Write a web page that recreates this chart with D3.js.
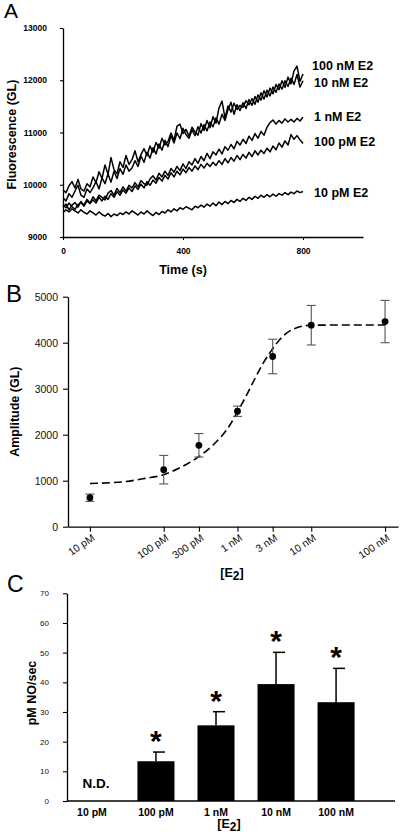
<!DOCTYPE html>
<html><head><meta charset="utf-8">
<script src="https://cdn.jsdelivr.net/npm/d3@7"></script>
<style>
body{margin:0;background:#fff}
svg{display:block;font-family:"Liberation Sans",Arial,Helvetica,sans-serif}
</style>
</head><body>
<svg id="chart" width="400" height="839"></svg>
<script>
// ---------- Panel A data ----------
const timeS = [0,10,20,30,40,50,60,70,80,90,100,110,120,130,140,150,160,170,180,190,
 200,210,220,230,240,250,260,270,280,290,300,310,320,330,340,350,360,370,380,390,
 400,410,420,430,440,450,460,470,480,490,500,510,520,530,540,550,560,570,580,590,
 600,610,620,630,640,650,660,670,680,690,700,710,720,730,740,750,760,770,780,790,800];
const timeTicks = [0, 400, 800];
const fluorTicks = [9000, 10000, 11000, 12000, 13000];
const seriesNames = ["100 nM E2", "10 nM E2", "1 nM E2", "100 pM E2", "10 pM E2"];
const fluor100nM = [9900,9850,9980,10060,9940,10100,9920,9880,10020,9960,
 10150,10040,10250,10120,10380,10200,10520,10290,10210,10440,
 10330,10560,10390,10480,10650,10440,10580,10690,10560,10740,
 10620,10810,10700,10890,10760,10830,10990,10850,11120,11160,
 10980,11060,10930,11100,11010,10950,11170,11040,11230,11090,
 11300,11180,11470,11600,11280,11510,11390,11560,11440,11520,
 11480,11610,11530,11650,11540,11720,11620,11800,11680,11850,
 11740,11920,11820,11990,11860,12060,11930,12180,12270,11980,12120];
const fluor10nM = [9750,9690,9830,9760,9880,9990,9800,9760,9920,9850,
 9940,10060,9920,10130,10020,10210,10050,10260,10120,10310,
 10200,10380,10260,10320,10460,10350,10550,10430,10620,10510,
 10710,10590,10780,10660,10850,10730,10940,10800,10990,10880,
 11080,10960,10890,11050,10940,11110,10990,11150,11030,11200,
 11110,11280,11160,11350,11230,11440,11580,11350,11530,11420,
 11570,11460,11630,11520,11690,11580,11760,11640,11810,11700,
 11870,11770,11930,11830,11990,11880,12040,11920,12110,11870,11990];
const fluor1nM = [9570,9630,9520,9610,9660,9570,9680,9610,9720,9650,
 9770,9690,9800,9760,9710,9840,9890,9800,9930,9850,
 9960,9880,9990,9940,10040,9960,10080,10020,9990,10110,
 10170,10090,10220,10150,10260,10180,10310,10240,10350,10270,
 10400,10310,10440,10380,10500,10410,10540,10460,10600,10500,
 10630,10570,10680,10590,10730,10660,10770,10690,10830,10760,
 10870,10790,10930,10850,10980,10890,11020,10950,11100,11190,
 11240,11160,11230,11180,11260,11200,11250,11200,11270,11220,11290];
const fluor100pM = [9610,9560,9650,9580,9530,9620,9660,9590,9690,9640,
 9710,9650,9760,9690,9780,9720,9830,9760,9870,9800,
 9900,9840,9940,9870,9980,9910,10010,9940,10060,9990,
 10090,10030,10140,10070,10180,10110,10230,10150,10260,10190,
 10300,10230,10330,10260,10360,10290,10390,10320,10410,10350,
 10430,10370,10460,10390,10500,10420,10520,10450,10560,10480,
 10580,10510,10620,10540,10650,10570,10660,10600,10700,10630,
 10740,10670,10800,10720,10840,10760,10960,10870,10940,10860,10790];
const fluor10pM = [9470,9520,9480,9540,9500,9460,9520,9470,9440,9500,
 9460,9420,9480,9430,9400,9450,9390,9440,9410,9460,
 9430,9480,9440,9500,9460,9420,9480,9440,9500,9450,
 9410,9470,9430,9490,9460,9520,9480,9540,9500,9560,
 9530,9580,9550,9520,9590,9560,9610,9570,9630,9590,
 9650,9600,9670,9620,9680,9640,9700,9660,9720,9680,
 9740,9700,9760,9720,9780,9740,9800,9760,9810,9770,
 9820,9780,9830,9800,9850,9810,9860,9830,9880,9850,9870];

// ---------- Panel B data ----------
const concLabels = ["10 pM", "100 pM", "300 pM", "1 nM", "3 nM", "10 nM", "100 nM"];
const concM = [1e-11, 1e-10, 3e-10, 1e-9, 3e-9, 1e-8, 1e-7];
const amplitude = [630, 1240, 1770, 2510, 3700, 4380, 4460];
const amplitudeErr = [80, 310, 255, 112, 375, 430, 460];
const ampTicks = [0, 1000, 2000, 3000, 4000, 5000];
const fitConcM = [1e-11, 2.8e-11, 5.6e-11, 1e-10, 1.6e-10, 2.8e-10, 4.7e-10, 7.9e-10, 1e-9,
  1.26e-9, 1.7e-9, 2.2e-9, 2.8e-9, 3.7e-9, 5.6e-9, 1e-8, 3.2e-8, 1e-7];
const fitAmp = [940, 975, 1050, 1130, 1270, 1490, 1780, 2210, 2500,
  2790, 3200, 3540, 3800, 4060, 4290, 4380, 4385, 4385];

// ---------- Panel C data ----------
const rateLabels = ["10 pM", "100 pM", "1 nM", "10 nM", "100 nM"];
const noRate = [null, 13.4, 25.5, 39.4, 33.3];
const noRateErr = [null, 3.1, 4.6, 10.7, 11.4];
const significant = [false, true, true, true, true];
const rateTicks = [0, 10, 20, 30, 40, 50, 60, 70];

const svg = d3.select("#chart");

function styleAxis(g, fontSize, bold, color) {
  g.select(".domain").attr("stroke", "#000").attr("stroke-width", 1.3);
  g.selectAll(".tick line").attr("stroke", "#000").attr("stroke-width", 1.1);
  g.selectAll("text").attr("font-size", fontSize).attr("font-weight", bold ? "bold" : "normal")
    .attr("fill", color || "#000").attr("font-family", '"Liberation Sans",Arial,sans-serif');
}
function e2Label(x, y, size) {
  const t = svg.append("text").attr("x", x).attr("y", y).attr("text-anchor", "middle")
    .attr("font-weight", "bold").attr("font-size", size);
  t.append("tspan").text("[E");
  t.append("tspan").attr("dy", 3).attr("font-size", size * 0.95).text("2");
  t.append("tspan").attr("dy", -3).text("]");
}

// ================= Panel A =================
const xA = d3.scaleLinear().domain([0, 1000]).range([63, 363]);
const yA = d3.scaleLinear().domain([9000, 13000]).range([237, 28]);

const gAy = svg.append("g").attr("transform", `translate(${xA(0)},0)`)
  .call(d3.axisLeft(yA).tickValues(fluorTicks).tickSize(3).tickSizeOuter(0).tickPadding(13).tickFormat(d3.format("d")));
styleAxis(gAy, 8.5, true);
const gAx = svg.append("g").attr("transform", `translate(0,${yA(9000)})`)
  .call(d3.axisBottom(xA).tickValues(timeTicks).tickSize(3).tickSizeOuter(0).tickPadding(8).tickFormat(d3.format("d")));
styleAxis(gAx, 8.5, true);

const seriesA = [fluor100nM, fluor10nM, fluor1nM, fluor100pM, fluor10pM];
const lineA = d3.line().x((d, i) => xA(timeS[i])).y(d => yA(d));
svg.append("g").selectAll("path").data(seriesA).join("path")
  .attr("d", lineA).attr("fill", "none").attr("stroke", "#000").attr("stroke-width", 1.5)
  .attr("stroke-linejoin", "round");

// series labels placed to the right of each trace end
const labelLevel = [12290, 11950, 11300, 10820, 9850];
svg.append("g").selectAll("text").data(seriesNames).join("text")
  .attr("x", (d, i) => xA(830) + (i === 0 ? 0 : 2))
  .attr("y", (d, i) => yA(labelLevel[i]))
  .attr("dy", "0.36em")
  .attr("font-size", 12.5).attr("font-weight", "bold").text(d => d);

svg.append("text").attr("transform", `translate(16,${(yA(9000) + yA(13000)) / 2 + 2}) rotate(-90)`)
  .attr("text-anchor", "middle").attr("font-weight", "bold").attr("font-size", 12.5).text("Fluorescence (GL)");
svg.append("text").attr("x", xA(400)).attr("y", 274).attr("text-anchor", "middle")
  .attr("font-weight", "bold").attr("font-size", 12.5).text("Time (s)");
svg.append("text").attr("x", 4).attr("y", 18).attr("font-size", 21).text("A");

// ================= Panel B =================
const xB = d3.scaleLog().domain([Math.pow(10, -11.2973), Math.pow(10, -6.8243)]).range([68, 398]);
const yB = d3.scaleLinear().domain([0, 5000]).range([526.7, 296.7]);

const gBy = svg.append("g").attr("transform", "translate(68,0)")
  .call(d3.axisLeft(yB).tickValues(ampTicks).tickSize(5).tickSizeOuter(0).tickPadding(5).tickFormat(d3.format("d")));
styleAxis(gBy, 10.5, false, "#111");
const gBx = svg.append("g").attr("transform", "translate(0,526.7)")
  .call(d3.axisBottom(xB).tickValues(concM).tickSize(5).tickSizeOuter(0).tickFormat((d, i) => concLabels[i]));
styleAxis(gBx, 10.5, false, "#111");
gBx.selectAll(".tick text").attr("y", 0).attr("dy", 0)
  .attr("text-anchor", "end").attr("transform", "translate(5,13) rotate(-34)");

// fit curve
const fitData = fitConcM.map((c, i) => ({c, a: fitAmp[i]}));
svg.append("path").datum(fitData)
  .attr("d", d3.line().x(d => xB(d.c)).y(d => yB(d.a)).curve(d3.curveMonotoneX))
  .attr("fill", "none").attr("stroke", "#000").attr("stroke-width", 1.6).attr("stroke-dasharray", "8,4");

// error bars
const ebB = svg.append("g").attr("stroke", "#555").attr("stroke-width", 1.1);
concM.forEach((c, i) => {
  const x = xB(c), y0 = yB(amplitude[i] - amplitudeErr[i]), y1 = yB(amplitude[i] + amplitudeErr[i]);
  ebB.append("line").attr("x1", x).attr("x2", x).attr("y1", y0).attr("y2", y1);
  ebB.append("line").attr("x1", x - 4.5).attr("x2", x + 4.5).attr("y1", y0).attr("y2", y0);
  ebB.append("line").attr("x1", x - 4.5).attr("x2", x + 4.5).attr("y1", y1).attr("y2", y1);
});
svg.append("g").selectAll("circle").data(concM).join("circle")
  .attr("cx", d => xB(d)).attr("cy", (d, i) => yB(amplitude[i])).attr("r", 3.4).attr("fill", "#000");

svg.append("text").attr("transform", `translate(19,${(yB(0) + yB(5000)) / 2}) rotate(-90)`)
  .attr("text-anchor", "middle").attr("font-weight", "bold").attr("font-size", 12.5).text("Amplitude (GL)");
e2Label(232, 577, 12.5);
svg.append("text").attr("x", 6).attr("y", 302).attr("font-size", 24).text("B");

// ================= Panel C =================
const xC = d3.scaleBand().domain(rateLabels).range([66, 366]).paddingInner(0.383).paddingOuter(0.19);
const yC = d3.scaleLinear().domain([0, 70]).range([801, 593.3]);

const gCy = svg.append("g").attr("transform", "translate(67,0)")
  .call(d3.axisLeft(yC).tickValues(rateTicks).tickSize(4).tickSizeOuter(0).tickPadding(14));
styleAxis(gCy, 8, false, "#111");
const gCx = svg.append("g").attr("transform", "translate(0,801)")
  .call(d3.axisBottom(xC).tickSize(0).tickSizeOuter(0).tickPadding(7.5));
styleAxis(gCx, 10.5, true);
gCx.select(".domain").attr("d", "M67,0H395");
gCx.selectAll(".tick").filter(d => d === rateLabels[0]).select("text").attr("x", -4);

const cx = d => xC(d) + xC.bandwidth() / 2;
svg.append("g").selectAll("rect").data(rateLabels.filter((d, i) => noRate[i] !== null)).join("rect")
  .attr("x", d => xC(d)).attr("width", xC.bandwidth())
  .attr("y", d => yC(noRate[rateLabels.indexOf(d)]))
  .attr("height", d => yC(0) - yC(noRate[rateLabels.indexOf(d)]))
  .attr("fill", "#000");

const ebC = svg.append("g").attr("stroke", "#000").attr("stroke-width", 1.5);
rateLabels.forEach((lab, i) => {
  if (noRate[i] === null) {
    svg.append("text").attr("x", cx(lab)).attr("y", 788).attr("text-anchor", "middle")
      .attr("font-weight", "bold").attr("font-size", 13.5).text("N.D.");
    return;
  }
  const x = cx(lab), yTop = yC(noRate[i] + noRateErr[i]);
  ebC.append("line").attr("x1", x).attr("x2", x).attr("y1", yC(noRate[i])).attr("y2", yTop);
  ebC.append("line").attr("x1", x - 3).attr("x2", x + 9).attr("y1", yTop).attr("y2", yTop);
  if (significant[i]) {
    svg.append("text").attr("x", x).attr("y", yTop - 1).attr("text-anchor", "middle")
      .attr("font-weight", "bold").attr("font-size", 30).text("*");
  }
});

svg.append("text").attr("transform", `translate(36,693) rotate(-90)`)
  .attr("text-anchor", "middle").attr("font-weight", "bold").attr("font-size", 12.5).text("pM NO/sec");
e2Label(229, 828, 12.5);
svg.append("text").attr("x", 7).attr("y", 592).attr("font-size", 23).text("C");
</script>
</body></html>
